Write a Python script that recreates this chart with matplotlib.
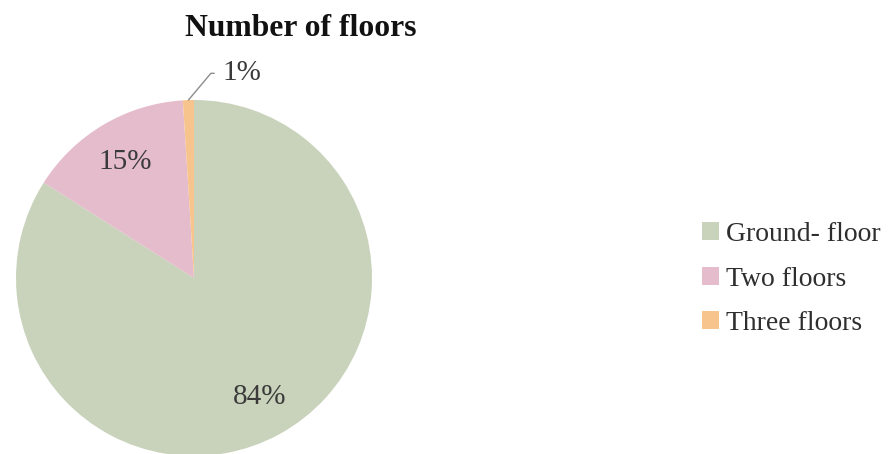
import numpy as np
import matplotlib
matplotlib.use("Agg")
import matplotlib.pyplot as plt

# data
categories = ["Ground- floor", "Two floors", "Three floors"]
shares = [84, 15, 1]
colors = ["#c9d3bb", "#e5bccb", "#f8c48d"]

plt.rcParams['font.family'] = ['Liberation Serif', 'DejaVu Serif']

fig = plt.figure(figsize=(8.91, 4.54), dpi=100)

# pie axes: centre ~ (194, 278) px, radius ~178 px
W, H = 891, 454
cx, cy, r = 194, 278, 178
ax = fig.add_axes([(cx - r) / W, (H - cy - r) / H, 2 * r / W, 2 * r / H])


def pct(p):
    # small slice gets its own label with a leader line
    return '' if p < 3 else '%d%%' % round(p)


wedges, texts, autotexts = ax.pie(shares, colors=colors, startangle=90,
                                  counterclock=False, radius=1,
                                  autopct=pct, pctdistance=0.76,
                                  textprops=dict(fontsize=21, color='#3a3a3a'))
ax.set_xlim(-1, 1)
ax.set_ylim(-1, 1)
ax.set_aspect('equal')
ax.axis('off')
for w in wedges:
    w.set_clip_on(False)

# leader line for the smallest slice
small = wedges[2]
ang = np.deg2rad((small.theta1 + small.theta2) / 2)
ax.annotate('%d%%' % shares[2], xy=(np.cos(ang), np.sin(ang)),
            xytext=(0.16, 1.15), ha='left', va='center',
            fontsize=21, color='#3a3a3a', annotation_clip=False,
            arrowprops=dict(arrowstyle='-', color='#8c8c8c', lw=1,
                            shrinkA=4, shrinkB=0,
                            connectionstyle='angle,angleA=0,angleB=50,rad=0'))

fig.text(301 / W, 1 - 28 / H, "Number of floors", ha='center', va='center',
         fontsize=22.8, fontweight='bold', color='#111111')

leg = fig.legend(wedges, categories, loc='center left',
                 bbox_to_anchor=(691 / W, 1 - 279 / H), frameon=False,
                 fontsize=20, handlelength=0.6, handleheight=0.6,
                 handletextpad=0.25, labelspacing=0.7, borderaxespad=0)
for t in leg.get_texts():
    t.set_color('#2e2e2e')

fig.savefig("out.png", dpi=100)
